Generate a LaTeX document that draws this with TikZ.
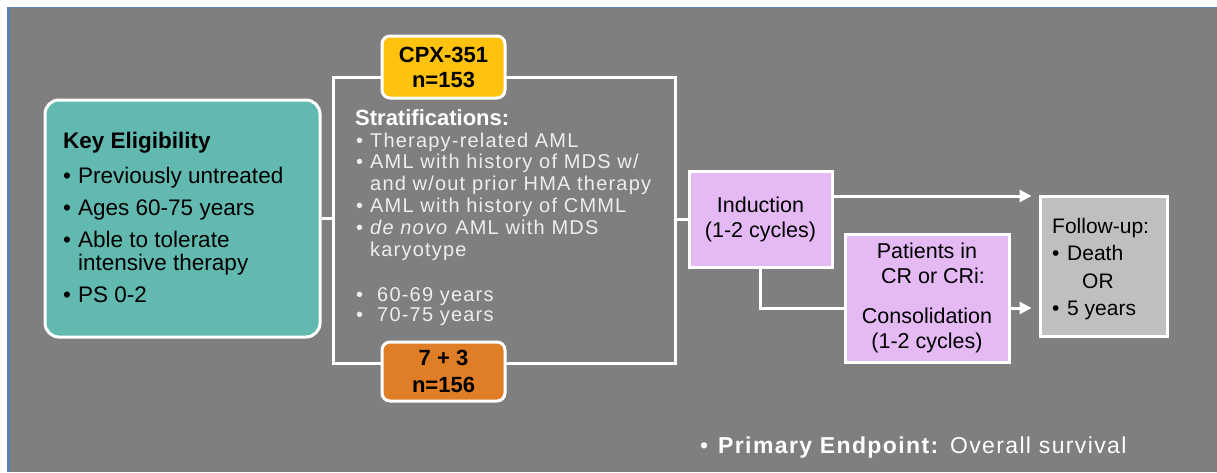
\documentclass[tikz,border=0pt]{standalone}
\usepackage{fontspec}
\setmainfont{Liberation Sans}
\newfontfamily\stratfont[LetterSpace=6]{Liberation Sans}
\newfontfamily\pefont[LetterSpace=6]{Liberation Sans}
\usetikzlibrary{arrows.meta,shadows,calc}
\definecolor{bggray}{HTML}{7F7F7F}
\definecolor{keyteal}{HTML}{62B9AF}
\definecolor{cpxyellow}{HTML}{FFC20E}
\definecolor{sevorange}{HTML}{E07E28}
\definecolor{lilac}{HTML}{E4B9F4}
\definecolor{fugray}{HTML}{BFBFBF}
\definecolor{edgeblue}{HTML}{5B80BE}
\definecolor{stxt}{HTML}{EEEEEE}
\begin{document}
\begin{tikzpicture}[x=1pt,y=-1pt,
  wbox/.style={draw=white, line width=3pt, inner sep=0pt},
  conn/.style={white, line width=3pt},
  arr/.style={white, line width=3pt, -{Triangle[length=12pt,width=12pt]}},
  kt/.style={anchor=base west, inner sep=0pt, font=\fontsize{22.5}{27}\selectfont, text=black},
  st/.style={anchor=base west, inner sep=0pt, font=\stratfont\fontsize{20}{22}\selectfont, text=stxt},
  bt/.style={font=\bfseries\fontsize{22}{25}\selectfont, text=black, align=center},
  pt/.style={font=\fontsize{21.5}{25}\selectfont, text=black, align=center},
  ft/.style={anchor=base west, inner sep=0pt, font=\fontsize{21}{25}\selectfont, text=black},
  shad/.style={drop shadow={opacity=0.3, shadow xshift=2pt, shadow yshift=-3pt}}]
\useasboundingbox (0,0) rectangle (1217,472);
\fill[white] (0,0) rectangle (1217,472);
\fill[bggray] (8,7) rectangle (1217,472);
\draw[edgeblue, line width=1pt] (8,7.5) -- (1217,7.5);
\draw[edgeblue, line width=2.5pt] (8.5,7) -- (8.5,472);

% Key eligibility box
\node[wbox, fill=keyteal, rounded corners=14pt, minimum width=275pt, minimum height=237pt, shad] (key) at (182.5,218.5) {};
\node[kt, font=\bfseries\fontsize{22.5}{27}\selectfont] (k0) at (63,148) {Key Eligibility};
\node[kt] (k1) at (63,183) {\makebox[15pt][l]{•}Previously untreated};
\node[kt] (k2) at (63,215) {\makebox[15pt][l]{•}Ages 60-75 years};
\node[kt] (k3) at (63,247) {\makebox[15pt][l]{•}Able to tolerate};
\node[kt] (k4) at (78,270) {intensive therapy};
\node[kt] (k5) at (63,302) {\makebox[15pt][l]{•}PS 0-2};

% Randomisation bracket
\node[wbox, minimum width=342pt, minimum height=286pt] (strat) at (504,220) {};
\draw[conn] (key.east) -- (key.east -| strat.west);

% arms
\node[wbox, fill=cpxyellow, rounded corners=8pt, minimum width=123pt, minimum height=62pt, shad, bt] (cpx) at (443.5,67) {CPX-351\\n=153};
\node[wbox, fill=sevorange, rounded corners=8pt, minimum width=123pt, minimum height=59pt, shad, bt] (sev) at (443.5,371.5) {7 + 3\\[2pt]n=156};

% stratification text
\node[anchor=base west, inner sep=0pt, font=\bfseries\fontsize{22}{26}\selectfont, text=white] (s0) at (355,125) {Stratifications:};
\node[st] (s1) at (356,147) {\makebox[14pt][l]{•}Therapy-related AML};
\node[st] (s2) at (356,168.8) {\makebox[14pt][l]{•}AML with history of MDS w/};
\node[st] (s3) at (370,190.6) {and w/out prior HMA therapy};
\node[st] (s4) at (356,212.4) {\makebox[14pt][l]{•}AML with history of CMML};
\node[st] (s5) at (356,234.2) {\makebox[14pt][l]{•}\textit{de novo} AML with MDS};
\node[st] (s6) at (370,256) {karyotype};
\node[st] (s7) at (356,301.7) {\makebox[21pt][l]{•}60-69 years};
\node[st] (s8) at (356,321.7) {\makebox[21pt][l]{•}70-75 years};

% treatment flow
\node[wbox, fill=lilac, minimum width=143pt, minimum height=96pt, pt] (ind) at (760.5,219) {Induction\\(1-2 cycles)};
\draw[conn] (strat.east |- ind.west) -- (ind.west);

\node[wbox, fill=lilac, minimum width=164pt, minimum height=128pt, pt] (cons) at (927,298) {Patients in\\\hspace*{12pt}CR or CRi:\\[15pt]Consolidation\\(1-2 cycles)};

\node[wbox, fill=fugray, minimum width=127pt, minimum height=140pt] (fu) at (1103.5,266) {};
\node[ft] (f0) at (1052,233) {Follow-up:};
\node[ft] (f1) at (1052,260) {\makebox[15pt][l]{•}Death};
\node[ft] (f2) at (1082,288) {OR};
\node[ft] (f3) at (1052,315) {\makebox[15pt][l]{•}5 years};

\coordinate (topy) at (0,196);
\coordinate (lowy) at (0,308);
\draw[arr, shorten >=7pt] (ind.east |- topy) -- (fu.west |- topy);
\draw[conn] (ind.south) -- (ind.south |- lowy) -- (cons.west |- lowy);
\draw[arr, shorten >=7pt] (cons.east |- lowy) -- (fu.west |- lowy);

% primary endpoint
\node[anchor=base west, inner sep=0pt, font=\pefont\fontsize{23}{26}\selectfont, text=white] (pe) at (700,453) {\makebox[18pt][l]{•}\textbf{Primary Endpoint:} Overall survival};
\end{tikzpicture}
\end{document}
